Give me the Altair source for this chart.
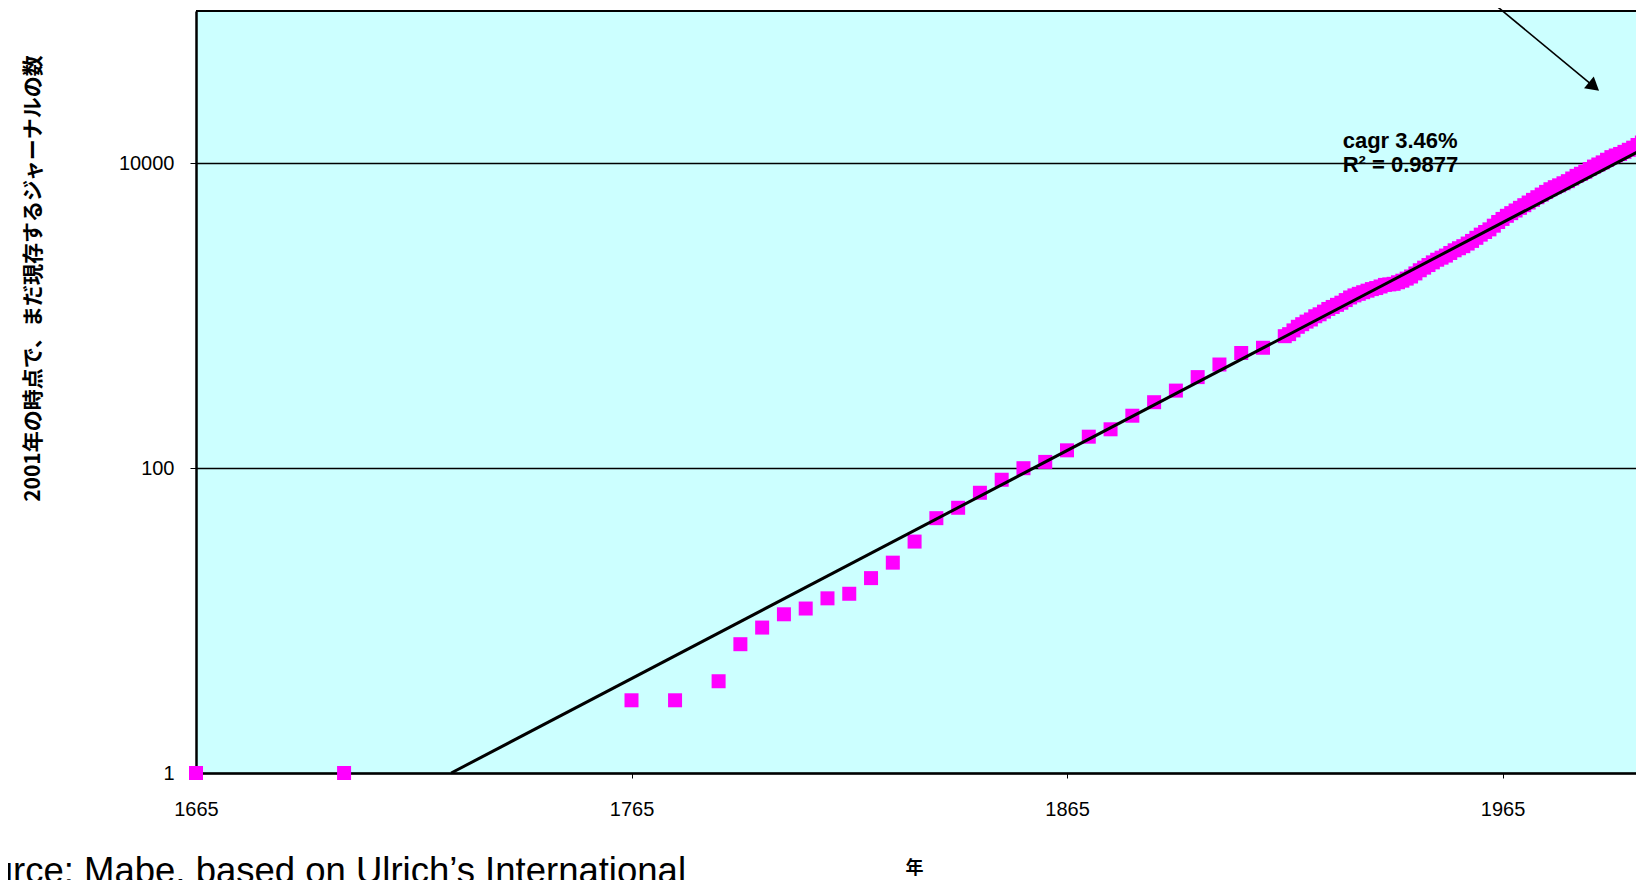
import altair as alt
import pandas as pd

# ---- data ----
early_years = [1665, 1699, 1765, 1775, 1785, 1790, 1795, 1800, 1805, 1810, 1815,
               1820, 1825, 1830, 1835, 1840, 1845, 1850, 1855, 1860, 1865, 1870,
               1875, 1880, 1885, 1890, 1895, 1900, 1905, 1910, 1915]
early_counts = [1, 1, 3, 3, 4, 7, 9, 11, 12, 14, 15,
                19, 24, 33, 47, 55, 69, 84, 100, 110, 131, 161,
                180, 221, 271, 323, 396, 479, 570, 617, 735]

annual_years = list(range(1916, 2002))
annual_counts = [758, 802, 847, 881, 916, 946, 993, 1023, 1065, 1109,
                 1143, 1180, 1219, 1268, 1319, 1361, 1394, 1428, 1462, 1497,
                 1521, 1557, 1595, 1607, 1621, 1660, 1700, 1754, 1811, 1897,
                 1990, 2070, 2153, 2242, 2333, 2407, 2484, 2584, 2690, 2775,
                 2863, 2979, 3100, 3249, 3409, 3548, 3692, 3902, 4124, 4322,
                 4530, 4716, 4909, 5110, 5319, 5537, 5764, 5999, 6245, 6501,
                 6767, 6984, 7178, 7408, 7647, 7960, 8285, 8551, 8825, 9186,
                 9531, 9838, 10155, 10567, 10995, 11268, 11535, 11905, 12285, 12680,
                 13200, 13720, 14290, 14620, 14960, 15340]

trend_years = [1723.6, 2001]
trend_counts = [1, 14130]

x_ticks = [1665, 1765, 1865, 1965]
y_ticks = [1, 100, 10000]

y_title = "2001年の時点で、まだ現存するジャーナルの数"
x_title = "年"
fit_lines = ["cagr 3.46%", "R² = 0.9877"]
fit_pos_year = [1928.3, 1928.3]
fit_pos_count = [12540, 8730]
arrow_from = (1962.1, 117200)
arrow_to = (1986.0, 31900)
source_text = "Source: Mabe, based on Ulrich’s International"

assert len(annual_years) == len(annual_counts)

points_df = pd.DataFrame({"year": early_years + annual_years,
                          "count": early_counts + annual_counts})
trend_df = pd.DataFrame({"year": trend_years, "count": trend_counts})
fit_df = pd.DataFrame({"year": fit_pos_year, "count": fit_pos_count, "label": fit_lines})
arrow_df = pd.DataFrame({"year": [arrow_from[0]], "count": [arrow_from[1]],
                         "year2": [arrow_to[0]], "count2": [arrow_to[1]]})
head_df = pd.DataFrame({"year": [arrow_to[0]], "count": [arrow_to[1]]})
src_df = pd.DataFrame({"t": [source_text]})
top_df = pd.DataFrame({"count": [100000]})

W, H = 1440, 762
FONT = "Liberation Sans"
CJK = "Noto Sans CJK JP"

x_scale = alt.Scale(domain=[1665, 1995.65], nice=False, zero=False)
y_scale = alt.Scale(type="log", domain=[1, 100000], nice=False)

x_axis = alt.Axis(values=x_ticks, format="d", title=x_title, grid=False,
                  domainColor="black", domainWidth=2.5, tickColor="black",
                  tickSize=5, tickWidth=1, labelFont=FONT, labelFontSize=20,
                  labelColor="black", labelPadding=21, labelFlush=False,
                  labelOverlap=False, titleFont=CJK, titleFontSize=18,
                  titleFontWeight="bold", titleColor="black", titleX=718,
                  titleY=95, titleBaseline="middle", titleAlign="center")
y_axis = alt.Axis(values=y_ticks, format="d", title=y_title, grid=True,
                  gridColor="black", gridWidth=1.5, domainColor="black",
                  domainWidth=2.5, tickColor="black", tickSize=6, tickWidth=1,
                  labelFont=FONT, labelFontSize=20, labelColor="black",
                  labelPadding=16, labelFlush=False, labelOverlap=False,
                  titleFont=CJK, titleFontSize=21, titleFontWeight="bold",
                  titleColor="black", titleX=-163, titleY=267, titleAngle=270,
                  titleBaseline="middle", titleAlign="center")

points = alt.Chart(points_df).mark_square(
    size=196, color="#FF00FF", opacity=1, filled=True
).encode(
    x=alt.X("year:Q", scale=x_scale, axis=x_axis),
    y=alt.Y("count:Q", scale=y_scale, axis=y_axis),
)

trend = alt.Chart(trend_df).mark_line(color="black", strokeWidth=3).encode(
    x=alt.X("year:Q"), y=alt.Y("count:Q"))

top_rule = alt.Chart(top_df).mark_rule(color="black", strokeWidth=2).encode(
    y=alt.Y("count:Q"), x=alt.value(0), x2=alt.value(W))

arrow = alt.Chart(arrow_df).mark_rule(color="black", strokeWidth=1.6).encode(
    x=alt.X("year:Q"), y=alt.Y("count:Q"), x2="year2:Q", y2="count2:Q")

head = alt.Chart(head_df).mark_point(
    shape="triangle-right", filled=True, color="black", opacity=1,
    size=230, angle=39.7, strokeWidth=0
).encode(x=alt.X("year:Q"), y=alt.Y("count:Q"))

fit_text = alt.Chart(fit_df).mark_text(
    font=FONT, fontSize=22, fontWeight="bold", align="left",
    baseline="alphabetic", color="black"
).encode(x=alt.X("year:Q"), y=alt.Y("count:Q"), text="label:N")

src = alt.Chart(src_df).mark_text(
    font=FONT, fontSize=36.5, align="right", baseline="alphabetic", color="black"
).encode(x=alt.value(490), y=alt.value(872), text="t:N")

chart = alt.layer(points, trend, top_rule, arrow, head, fit_text, src).properties(
    width=W, height=H,
    autosize=alt.AutoSizeParams(type="none"),
    padding={"left": 188, "top": 3, "right": 0, "bottom": 115},
).configure_view(fill="#CCFFFF", stroke="transparent")

chart.save("out.html", embed_options={"renderer": "svg", "actions": False})
